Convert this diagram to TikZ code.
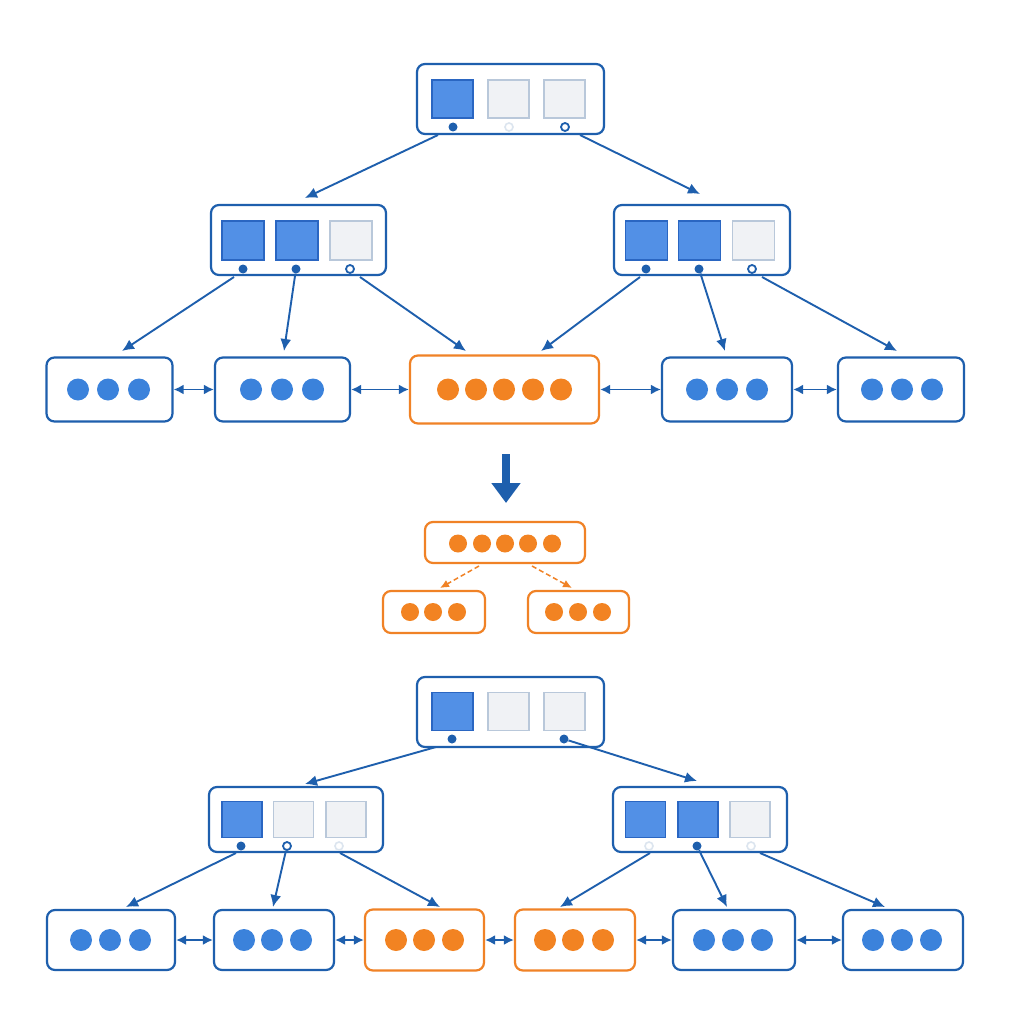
\documentclass[tikz,border=0pt]{standalone}
\usetikzlibrary{arrows.meta}
\definecolor{bdark}{HTML}{1E5FAD}
\definecolor{keyfill}{HTML}{5290E6}
\definecolor{keyline}{HTML}{2A66C2}
\definecolor{efill}{HTML}{F0F2F5}
\definecolor{eline}{HTML}{B9C8DA}
\definecolor{dotblue}{HTML}{3B82DB}
\definecolor{ora}{HTML}{F28322}
\definecolor{oline}{HTML}{F08226}
\definecolor{faint}{HTML}{DCE5EF}
\begin{document}
\begin{tikzpicture}[x=1pt,y=-1pt,
  boxb/.style={draw=bdark,line width=2.2pt,rounded corners=8pt,fill=white,inner sep=0pt},
  boxo/.style={draw=oline,line width=2.2pt,rounded corners=8pt,fill=white,inner sep=0pt},
  keyf/.style={draw=keyline,fill=keyfill,line width=1.5pt,minimum width=41pt,minimum height=38pt,inner sep=0pt},
  keye/.style={draw=eline,fill=efill,line width=1.5pt,minimum width=41pt,minimum height=38pt,inner sep=0pt},
  dotb/.style={circle,fill=dotblue,minimum size=22pt,inner sep=0pt},
  doto/.style={circle,fill=ora,minimum size=22pt,inner sep=0pt},
  pfull/.style={circle,fill=bdark,minimum size=9pt,inner sep=0pt},
  pring/.style={circle,draw=bdark,fill=white,line width=1.8pt,minimum size=8pt,inner sep=0pt},
  pfaint/.style={circle,draw=faint,fill=white,line width=1.6pt,minimum size=8pt,inner sep=0pt},
  conn/.style={draw=bdark,line width=1.9pt,-{Latex[length=12pt,width=11pt]}},
  link/.style={draw=bdark,line width=1.9pt,{Latex[length=10pt,width=10pt]}-{Latex[length=10pt,width=10pt]}},
  splitarr/.style={draw=oline,line width=1.5pt,dashed,dash pattern=on 5pt off 3pt,-{Latex[length=9pt,width=8pt]}},
  bigarr/.style={draw=bdark,line width=8pt,-{Triangle[length=20pt,width=28pt]}}
]
\useasboundingbox (0,0) rectangle (1024,1024);
\fill[white] (0,0) rectangle (1024,1024);

% ===== TOP TREE =====
\node[boxb,minimum width=187pt,minimum height=70pt] (troot) at (510.5,99) {};
\node[keyf] (trk1) at (452.5,99) {};
\node[keye] (trk2) at (508.5,99) {};
\node[keye] (trk3) at (564.5,99) {};
\node[pfull] (trp1) at (453,127) {};
\node[pfaint] (trp2) at (509,127) {};
\node[pring] (trp3) at (565,127) {};

\node[boxb,minimum width=175pt,minimum height=70pt] (tl) at (298.5,240) {};
\node[keyf,minimum width=42pt,minimum height=39pt] (tlk1) at (243,240.5) {};
\node[keyf,minimum width=42pt,minimum height=39pt] (tlk2) at (297,240.5) {};
\node[keye,minimum width=42pt,minimum height=39pt] (tlk3) at (351,240.5) {};
\node[pfull] (tlp1) at (243,269) {};
\node[pfull] (tlp2) at (296,269) {};
\node[pring] (tlp3) at (350,269) {};

\node[boxb,minimum width=176pt,minimum height=70pt] (tr) at (702,240) {};
\node[keyf,minimum width=42pt,minimum height=39pt] (trr1) at (646.5,240.5) {};
\node[keyf,minimum width=42pt,minimum height=39pt] (trr2) at (699.5,240.5) {};
\node[keye,minimum width=42pt,minimum height=39pt] (trr3) at (753.5,240.5) {};
\node[pfull] (trq1) at (646,269) {};
\node[pfull] (trq2) at (699,269) {};
\node[pring] (trq3) at (752,269) {};

% top leaves
\node[boxb,minimum width=126pt,minimum height=64pt] (ta1) at (109.5,389.5) {};
\foreach \x [count=\i] in {78,108,139} \node[dotb] (ta1d\i) at (\x,389.5) {};
\node[boxb,minimum width=135pt,minimum height=64pt] (ta2) at (282.5,389.5) {};
\foreach \x [count=\i] in {251,282,313} \node[dotb] (ta2d\i) at (\x,389.5) {};
\node[boxo,minimum width=189pt,minimum height=68pt] (ta3) at (504.5,389.5) {};
\foreach \x [count=\i] in {448,476,504,533,561} \node[doto] (ta3d\i) at (\x,389.5) {};
\node[boxb,minimum width=130pt,minimum height=64pt] (ta4) at (727,389.5) {};
\foreach \x [count=\i] in {697,727,757} \node[dotb] (ta4d\i) at (\x,389.5) {};
\node[boxb,minimum width=126pt,minimum height=64pt] (ta5) at (901,389.5) {};
\foreach \x [count=\i] in {872,902,932} \node[dotb] (ta5d\i) at (\x,389.5) {};

% top connectors
\coordinate (c1s) at (438,135); \coordinate (c1e) at (305,198);
\coordinate (c2s) at (580,135); \coordinate (c2e) at (700,194);
\coordinate (c3s) at (234,277); \coordinate (c3e) at (122,351);
\coordinate (c4e) at (284,351);
\coordinate (c5s) at (360,277); \coordinate (c5e) at (466,351);
\coordinate (c6s) at (640,277); \coordinate (c6e) at (541,351);
\coordinate (c7e) at (725,351);
\coordinate (c8s) at (762,277); \coordinate (c8e) at (897,351);
\draw[conn] (c1s) -- (c1e);
\draw[conn] (c2s) -- (c2e);
\draw[conn] (c3s) -- (c3e);
\draw[conn] (tlp2) -- (c4e);
\draw[conn] (c5s) -- (c5e);
\draw[conn] (c6s) -- (c6e);
\draw[conn] (trq2) -- (c7e);
\draw[conn] (c8s) -- (c8e);
\draw[link] (ta1) -- (ta2);
\draw[link] (ta2) -- (ta3);
\draw[link] (ta3) -- (ta4);
\draw[link] (ta4) -- (ta5);

% ===== MIDDLE =====
\coordinate (bas) at (506,454); \coordinate (bae) at (506,503);
\draw[bigarr] (bas) -- (bae);

\node[boxo,minimum width=160pt,minimum height=41pt] (sp) at (505,542.5) {};
\foreach \x [count=\i] in {458,482,505,528,552} \node[doto,minimum size=18pt] (spd\i) at (\x,543.5) {};
\node[boxo,minimum width=102pt,minimum height=42pt] (spl) at (434,612) {};
\foreach \x [count=\i] in {410,433,457} \node[doto,minimum size=18pt] (spld\i) at (\x,612) {};
\node[boxo,minimum width=101pt,minimum height=42pt] (spr) at (578.5,612) {};
\foreach \x [count=\i] in {554,578,602} \node[doto,minimum size=18pt] (sprd\i) at (\x,612) {};
\coordinate (s1s) at (479,566); \coordinate (s1e) at (440,588);
\coordinate (s2s) at (532,566); \coordinate (s2e) at (572,588);
\draw[splitarr] (s1s) -- (s1e);
\draw[splitarr] (s2s) -- (s2e);

% ===== BOTTOM TREE =====
\node[boxb,minimum width=187pt,minimum height=70pt] (broot) at (510.5,712) {};
\node[keyf] (brk1) at (452.5,711.5) {};
\node[keye] (brk2) at (508.5,711.5) {};
\node[keye] (brk3) at (564.5,711.5) {};
\node[pfull] (brp1) at (452,739) {};
\node[pfull] (brp3) at (564,739) {};

\node[boxb,minimum width=174pt,minimum height=65pt] (bl) at (296,819.5) {};
\node[keyf,minimum width=40pt,minimum height=36pt] (blk1) at (242,819.5) {};
\node[keye,minimum width=40pt,minimum height=36pt] (blk2) at (293.5,819.5) {};
\node[keye,minimum width=40pt,minimum height=36pt] (blk3) at (346,819.5) {};
\node[pfull] (blp1) at (241,846) {};
\node[pring] (blp2) at (287,846) {};
\node[pfaint] (blp3) at (339,846) {};

\node[boxb,minimum width=174pt,minimum height=65pt] (br) at (700,819.5) {};
\node[keyf,minimum width=40pt,minimum height=36pt] (brr1) at (645.5,819.5) {};
\node[keyf,minimum width=40pt,minimum height=36pt] (brr2) at (698,819.5) {};
\node[keye,minimum width=40pt,minimum height=36pt] (brr3) at (750,819.5) {};
\node[pfaint] (brq1) at (649,846) {};
\node[pfull] (brq2) at (697,846) {};
\node[pfaint] (brq3) at (751,846) {};

% bottom leaves
\node[boxb,minimum width=128pt,minimum height=60pt] (bb1) at (111,940) {};
\foreach \x [count=\i] in {81,110,140} \node[dotb] (bb1d\i) at (\x,940) {};
\node[boxb,minimum width=120pt,minimum height=60pt] (bb2) at (274,940) {};
\foreach \x [count=\i] in {244,272,301} \node[dotb] (bb2d\i) at (\x,940) {};
\node[boxo,minimum width=119pt,minimum height=61pt] (bb3) at (424.5,940) {};
\foreach \x [count=\i] in {396,424,453} \node[doto] (bb3d\i) at (\x,940) {};
\node[boxo,minimum width=120pt,minimum height=61pt] (bb4) at (575,940) {};
\foreach \x [count=\i] in {545,573,603} \node[doto] (bb4d\i) at (\x,940) {};
\node[boxb,minimum width=122pt,minimum height=60pt] (bb5) at (734,940) {};
\foreach \x [count=\i] in {704,733,762} \node[dotb] (bb5d\i) at (\x,940) {};
\node[boxb,minimum width=120pt,minimum height=60pt] (bb6) at (903,940) {};
\foreach \x [count=\i] in {873,902,931} \node[dotb] (bb6d\i) at (\x,940) {};

% bottom connectors
\coordinate (d1s) at (436,747); \coordinate (d1e) at (305,784);
\coordinate (d2e) at (697,781);
\coordinate (d3s) at (236,853); \coordinate (d3e) at (126,907);
\coordinate (d4e) at (273,907);
\coordinate (d5s) at (340,853); \coordinate (d5e) at (440,907);
\coordinate (d6s) at (650,853); \coordinate (d6e) at (560,907);
\coordinate (d7e) at (727,907);
\coordinate (d8s) at (760,853); \coordinate (d8e) at (885,907);
\draw[conn] (d1s) -- (d1e);
\draw[conn] (brp3) -- (d2e);
\draw[conn] (d3s) -- (d3e);
\draw[conn] (blp2) -- (d4e);
\draw[conn] (d5s) -- (d5e);
\draw[conn] (d6s) -- (d6e);
\draw[conn] (brq2) -- (d7e);
\draw[conn] (d8s) -- (d8e);
\draw[link] (bb1) -- (bb2);
\draw[link] (bb2) -- (bb3);
\draw[link] (bb3) -- (bb4);
\draw[link] (bb4) -- (bb5);
\draw[link] (bb5) -- (bb6);
\end{tikzpicture}
\end{document}
